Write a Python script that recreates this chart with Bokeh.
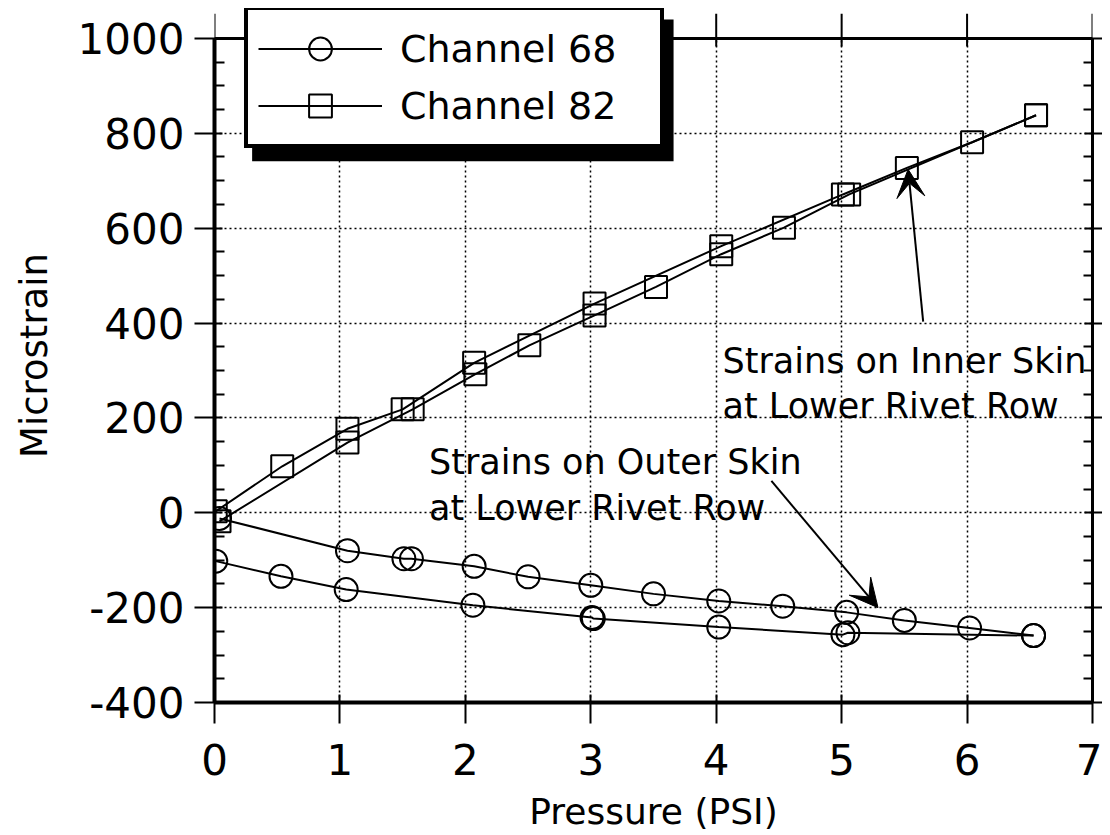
from bokeh.plotting import figure
from bokeh.models import (FixedTicker, LinearAxis, Legend, LegendItem, Label,
                          Arrow, VeeHead, Range1d, CustomLabelingPolicy,
                          BoxAnnotation, Span)
from bokeh.embed import file_html
from bokeh.resources import INLINE

# ---------------- data ----------------
# Channel 68 - outer skin, upper branch
ch68_a_x = [0.04, 1.06, 1.51, 1.57, 2.07, 2.50, 3.00, 3.50, 4.02, 4.53, 5.04, 5.50, 6.02, 6.53]
ch68_a_y = [-12, -80, -97, -97, -113, -135, -153, -171, -186, -197, -210, -227, -243, -259]
# Channel 68 - outer skin, lower branch
ch68_b_x = [0.01, 0.53, 1.05, 2.06, 3.01, 3.02, 4.02, 5.01, 5.05, 6.53]
ch68_b_y = [-102, -134, -162, -195, -221, -223, -241, -257, -253, -259]
# Channel 82 - inner skin, upper branch
ch82_a_x = [0.01, 0.54, 1.06, 1.50, 2.07, 3.03, 4.04, 5.01, 5.52, 6.04, 6.55]
ch82_a_y = [3, 98, 177, 218, 316, 441, 562, 671, 727, 781, 838]
# Channel 82 - inner skin, lower branch
ch82_b_x = [0.04, 1.06, 1.58, 2.08, 2.51, 3.03, 3.52, 4.04, 4.54, 5.06, 6.55]
ch82_b_y = [-18, 148, 218, 292, 353, 416, 476, 545, 601, 671, 838]

x_ticks = [0, 1, 2, 3, 4, 5, 6, 7]
y_ticks = [-400, -200, 0, 200, 400, 600, 800, 1000]
y_minor = [v for v in range(-400, 1001, 50) if v % 200 != 0]
y_label_overrides = {-400: "-400", -200: "-200"}

series_labels = ["Channel 68", "Channel 82"]
x_title = "Pressure (PSI)"
y_title = "Microstrain"

X_MIN, X_MAX = 0, 7
Y_MIN, Y_MAX = -400, 1000
Y_VIEW_TOP = 1063          # extra room above the top border for the legend box

FONT = "DejaVu Sans"

p = figure(frame_width=878, frame_height=694,
           x_range=Range1d(X_MIN, X_MAX), y_range=Range1d(Y_MIN, Y_VIEW_TOP),
           output_backend="svg", toolbar_location=None,
           min_border_left=214, min_border_top=8, min_border_right=10,
           min_border_bottom=4,
           x_axis_label=x_title, y_axis_label=y_title)
p.outline_line_color = None
p.background_fill_color = "white"
p.border_fill_color = "white"

no_labels = CustomLabelingPolicy(code="return []")

# ---------------- grid ----------------
p.xgrid.ticker = FixedTicker(ticks=x_ticks, minor_ticks=[])
p.ygrid.ticker = FixedTicker(ticks=y_ticks, minor_ticks=[])
for g in (p.xgrid, p.ygrid):
    g.grid_line_color = "black"
    g.grid_line_dash = "2 3"
    g.grid_line_width = 1.5
    g.grid_line_alpha = 1.0

# white strip above the top border hides the grid there
p.add_layout(BoxAnnotation(bottom=Y_MAX, top=Y_VIEW_TOP, fill_color="white",
                           fill_alpha=1.0, line_color=None, level="underlay"))

# ---------------- axes ----------------
xa = p.xaxis[0]
xa.ticker = FixedTicker(ticks=x_ticks, minor_ticks=[])
xa.axis_line_width = 4
xa.major_tick_line_width = 2
xa.major_tick_out = 21
xa.major_tick_in = 8
xa.major_label_standoff = 20
xa.major_label_text_font = FONT
xa.major_label_text_font_size = "42px"
xa.major_label_text_color = "black"
xa.axis_label_text_font = FONT
xa.axis_label_text_font_size = "36px"
xa.axis_label_text_font_style = "normal"
xa.axis_label_text_color = "black"
xa.axis_label_standoff = 13

ya = p.yaxis[0]
ya.ticker = FixedTicker(ticks=y_ticks, minor_ticks=y_minor)
ya.bounds = (Y_MIN, Y_MAX)
ya.major_label_overrides = y_label_overrides
ya.axis_line_width = 4
ya.major_tick_line_width = 2
ya.major_tick_out = 20
ya.major_tick_in = 8
ya.minor_tick_line_width = 2
ya.minor_tick_in = 10
ya.minor_tick_out = 0
ya.major_label_standoff = 10
ya.major_label_text_font = FONT
ya.major_label_text_font_size = "42px"
ya.major_label_text_color = "black"
ya.axis_label_text_font = FONT
ya.axis_label_text_font_size = "37px"
ya.axis_label_text_font_style = "normal"
ya.axis_label_text_color = "black"
ya.axis_label_standoff = 19

right = LinearAxis(ticker=FixedTicker(ticks=y_ticks, minor_ticks=y_minor),
                   bounds=(Y_MIN, Y_MAX),
                   axis_line_width=3, major_tick_line_width=2,
                   major_tick_out=10, major_tick_in=8,
                   minor_tick_line_width=2, minor_tick_in=9, minor_tick_out=0,
                   major_label_policy=no_labels,
                   major_label_text_font_size="0px", major_label_standoff=0)
p.add_layout(right, "right")

# top border line and its tick marks (drawn inside the taller frame)
p.add_layout(Span(location=Y_MAX, dimension="width", line_color="black",
                  line_width=3))
p.segment(x0=x_ticks, y0=[Y_MAX - 17] * len(x_ticks),
          x1=x_ticks, y1=[Y_MAX + 52] * len(x_ticks),
          line_color="black", line_width=2)

# ---------------- data glyphs ----------------
LW = 2
l68a = p.line(ch68_a_x, ch68_a_y, line_color="black", line_width=LW)
m68a = p.scatter(ch68_a_x, ch68_a_y, marker="circle", size=23, fill_color=None,
                 line_color="black", line_width=LW)
l68b = p.line(ch68_b_x, ch68_b_y, line_color="black", line_width=LW)
m68b = p.scatter(ch68_b_x, ch68_b_y, marker="circle", size=23, fill_color=None,
                 line_color="black", line_width=LW)
l82a = p.line(ch82_a_x, ch82_a_y, line_color="black", line_width=LW)
m82a = p.scatter(ch82_a_x, ch82_a_y, marker="square", size=22, fill_color=None,
                 line_color="black", line_width=LW)
l82b = p.line(ch82_b_x, ch82_b_y, line_color="black", line_width=LW)
m82b = p.scatter(ch82_b_x, ch82_b_y, marker="square", size=22, fill_color=None,
                 line_color="black", line_width=LW)

# ---------------- annotations ----------------
TFS = "35px"
for (tx, ty, tt) in [(4.05, 319, "Strains on Inner Skin"),
                     (4.05, 226, "at Lower Rivet Row"),
                     (1.71, 106, "Strains on Outer Skin"),
                     (1.71, 11, "at Lower Rivet Row")]:
    p.add_layout(Label(x=tx, y=ty, text=tt, text_font=FONT, text_font_size=TFS,
                       text_color="black", text_baseline="alphabetic"))

p.add_layout(Arrow(end=VeeHead(size=28, fill_color="black", line_color="black"),
                   x_start=5.65, y_start=403, x_end=5.53, y_end=724,
                   line_width=2, line_color="black"))
p.add_layout(Arrow(end=VeeHead(size=28, fill_color="black", line_color="black"),
                   x_start=4.44, y_start=67, x_end=5.29, y_end=-200,
                   line_width=2, line_color="black"))

# ---------------- legend (with drop shadow) ----------------
p.add_layout(BoxAnnotation(left=0.30, right=3.66, bottom=741, top=1040,
                           fill_color="black", fill_alpha=1.0, line_color=None))

legend = Legend(items=[LegendItem(label=series_labels[0], renderers=[l68a, m68a]),
                       LegendItem(label=series_labels[1], renderers=[l82a, m82a])],
                location=(30, 554),
                background_fill_color="white", background_fill_alpha=1.0,
                border_line_color="black", border_line_width=4,
                border_line_alpha=1.0,
                label_text_font=FONT, label_text_font_size="38px",
                label_text_color="black", label_standoff=18,
                glyph_width=124, glyph_height=57, spacing=0, padding=10,
                label_width=250, margin=0)
p.add_layout(legend, "center")

open("out.html", "w").write(file_html(p, INLINE))
